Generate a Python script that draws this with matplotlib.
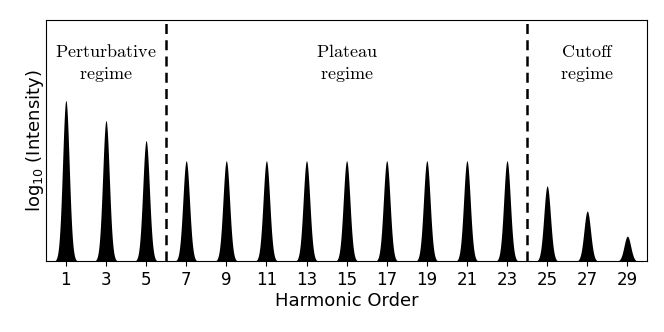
import numpy as np
import matplotlib
matplotlib.use("Agg")
import matplotlib.pyplot as plt

# harmonic orders and peak heights (log10 intensity, arbitrary units)
orders = [1, 3, 5, 7, 9, 11, 13, 15, 17, 19, 21, 23, 25, 27, 29]
heights = [8, 7, 6, 5, 5, 5, 5, 5, 5, 5, 5, 5, 3.75, 2.5, 1.25]

# regime boundaries and labels
boundaries = [6, 24]
regime_x = [3, 15, 27]
regime_labels = [r'$\mathrm{Perturbative}$' + '\n' + r'$\mathrm{regime}$',
                 r'$\mathrm{Plateau}$' + '\n' + r'$\mathrm{regime}$',
                 r'$\mathrm{Cutoff}$' + '\n' + r'$\mathrm{regime}$']

sigma = 0.165
x = np.linspace(0, 30, 3000)
y = np.zeros_like(x)
for o, h in zip(orders, heights):
    y = y + h * np.exp(-(x - o) ** 2 / (2 * sigma ** 2))

fig, ax = plt.subplots(figsize=(6.64, 3.32), dpi=100)
ax.fill_between(x, 0, y, color='black', lw=0)
for b in boundaries:
    ax.axvline(b, color='black', ls='--', lw=1.8, dashes=(4, 2.5))
for rx, lab in zip(regime_x, regime_labels):
    ax.text(rx, 9.85, lab, ha='center', va='center', fontsize=13,
            linespacing=1.3, math_fontfamily='cm')

ax.set_xlim(0, 30)
ax.set_ylim(0, 12)
ax.set_xticks(orders)
ax.set_yticks([])
ax.tick_params(labelsize=12)
ax.set_xlabel('Harmonic Order', fontsize=13, labelpad=2)
ax.set_ylabel(r'log$_{10}$ (Intensity)', fontsize=13, labelpad=0)
fig.subplots_adjust(left=0.069, right=0.975, top=0.94, bottom=0.213)
fig.savefig('out.png')
